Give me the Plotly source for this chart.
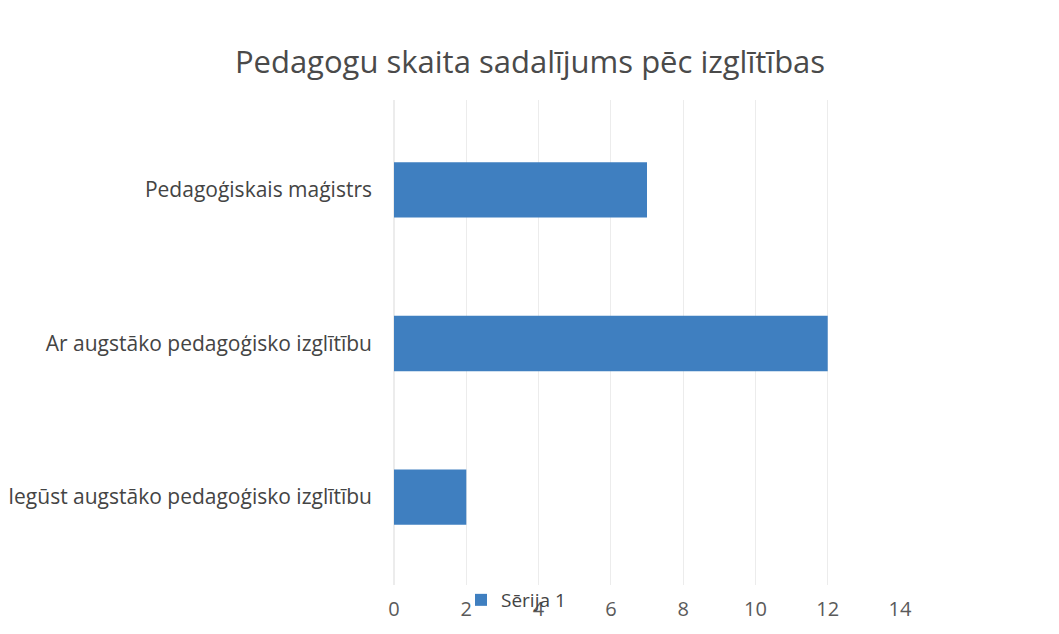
import plotly.graph_objects as go

categories = ["Iegūst augstāko pedagoģisko izglītību",
              "Ar augstāko pedagoģisko izglītību",
              "Pedagoģiskais maģistrs"]
values = [2, 12, 7]
series_name = "Sērija 1"
title_text = "Pedagogu skaita sadalījums pēc izglītības"
x_ticks = [0, 2, 4, 6, 8, 10, 12, 14]

fig = go.Figure()
fig.add_trace(go.Bar(
    y=categories, x=values, orientation="h", name=series_name,
    marker=dict(color="#3f7fc0", line=dict(width=0)),
    width=0.36, showlegend=True,
))

# page has an 8px body margin, so figure coords = page coords - 8
W, H = 1051, 626
L, R, T, B = 386, 159, 92, 49
PW, PH = W - L - R, H - T - B
fig.update_layout(
    width=W, height=H,
    margin=dict(l=L, r=R, t=T, b=B, pad=0),
    paper_bgcolor="white", plot_bgcolor="white",
    title=dict(text=title_text, x=522 / W, xanchor="center",
               y=1 - 54 / H, yanchor="middle",
               font=dict(family="Open Sans", size=31, color="#4a4a4a")),
    font=dict(family="Open Sans", color="#555555"),
    xaxis=dict(range=[0, 14], tickvals=x_ticks, ticktext=[str(v) for v in x_ticks],
               showgrid=True, gridcolor="#ececec", gridwidth=1,
               zeroline=True, zerolinecolor="#ececec", showline=False,
               automargin=False,
               tickfont=dict(size=20, color="#5a5a5a"), ticklabelstandoff=10),
    yaxis=dict(type="category", range=[-0.573, 2.586], showgrid=False,
               zeroline=False, showline=False, automargin=False,
               tickfont=dict(size=21, color="#444444"), ticklabelstandoff=21),
    legend=dict(x=(453 - L) / PW, xanchor="left",
                y=-(592 - (H - B)) / PH, yanchor="middle",
                orientation="h", bgcolor="rgba(0,0,0,0)", itemwidth=30,
                font=dict(family="Open Sans", size=19, color="#444444")),
)

fig.write_html("out.html")
